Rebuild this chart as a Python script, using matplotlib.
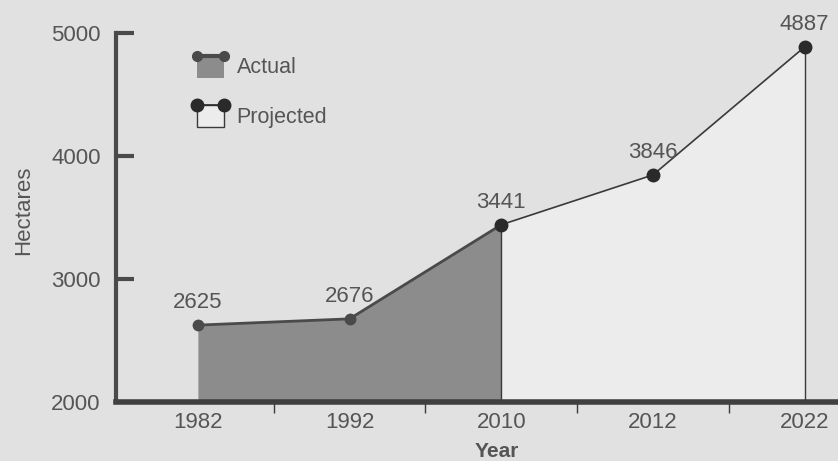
import numpy as np
import matplotlib
matplotlib.use('Agg')
import matplotlib.pyplot as plt
from matplotlib.legend_handler import HandlerBase
from matplotlib.patches import Rectangle
from matplotlib.lines import Line2D

plt.rcParams['font.family'] = ['Liberation Sans', 'DejaVu Sans']

years = ['1982', '1992', '2010', '2012', '2022']
actual = [2625, 2676, 3441]
projected = [3441, 3846, 4887]

bg = '#e1e1e1'
dark = '#3a3a3a'
txt = '#555555'

x = np.arange(len(years))
xa = x[:3]
xp = x[2:]

fig = plt.figure(figsize=(8.38, 4.61), dpi=100, facecolor=bg)
ax = fig.add_axes([0.1384, 0.128, 0.8616, 0.8004])
ax.set_facecolor(bg)

# actual: shaded area under the line
ax.fill_between(xa, 2000, actual, color='#8c8c8c', lw=0, zorder=2)
ax.plot(xa, actual, color='#4a4a4a', lw=2, zorder=3)
ax.plot(xa[:2], actual[:2], 'o', color='#4a4a4a', ms=7.5, zorder=4)

# projected: pale area with thin outline
ax.fill_between(xp, 2000, projected, color='#ececec', lw=0, zorder=2)
ax.plot([xp[0], xp[0]], [2000, projected[0]], color=dark, lw=1, zorder=3)
ax.plot([xp[-1], xp[-1]], [2000, projected[-1]], color=dark, lw=1, zorder=3)
ax.plot(xp, projected, color=dark, lw=1.2, zorder=3)
ax.plot(xp, projected, 'o', color='#2a2a2a', ms=9, zorder=4)

vals = actual[:2] + projected
for xi, v in zip(x, vals):
    ax.text(xi, v + 95, str(v), ha='center', va='bottom', fontsize=16,
            color=txt, clip_on=False)

ax.set_xlim(-0.54, 4.22)
ax.set_ylim(2000, 5000)
ax.set_xticks(x)
ax.set_xticklabels(years)
ax.set_xticks(x[:-1] + 0.5, minor=True)
ax.set_yticks([2000, 3000, 4000, 5000])
ax.tick_params(axis='x', which='major', length=0, pad=7, labelsize=16, labelcolor=txt)
ax.tick_params(axis='x', which='minor', length=8, width=1, color=dark, direction='out')
ax.tick_params(axis='y', length=13, width=3, color='#4a4a4a', direction='in',
               pad=11, labelsize=16, labelcolor=txt)
ax.get_yticklines()[0].set_visible(False)

for s in ['top', 'right']:
    ax.spines[s].set_visible(False)
ax.spines['left'].set_linewidth(3)
ax.spines['left'].set_color('#4a4a4a')
ax.spines['bottom'].set_linewidth(4)
ax.spines['bottom'].set_color('#404040')

ax.set_ylabel('Hectares', fontsize=16, color=txt)
ax.yaxis.set_label_coords(-0.113, 0.52)
ax.set_xlabel('Year', fontsize=15, color=txt, fontweight='bold')
ax.xaxis.set_label_coords(0.528, -0.108)


class AreaHandler(HandlerBase):
    # patch under a marker line, line sits on the patch's top edge
    def __init__(self, face, edge, lc, lw, ms, shift=-6):
        super().__init__()
        self.face, self.edge, self.lc, self.lw, self.ms = face, edge, lc, lw, ms
        self.shift = shift

    def create_artists(self, legend, orig, xd, yd, w, h, fs, trans):
        y0 = yd + self.shift
        top = y0 + h
        r = Rectangle((xd + 2, y0), w - 4, h, facecolor=self.face,
                      edgecolor=self.edge, lw=1, transform=trans)
        ln = Line2D([xd + 2, xd + w - 2], [top, top], color=self.lc, lw=self.lw,
                    marker='o', ms=self.ms, transform=trans)
        return [r, ln]


h1 = Rectangle((0, 0), 1, 1)
h2 = Rectangle((0, 0), 1, 1)
leg = ax.legend([h1, h2], ['Actual', 'Projected'],
                handler_map={h1: AreaHandler('#8c8c8c', 'none', '#4a4a4a', 3, 7),
                             h2: AreaHandler('#ececec', dark, '#2a2a2a', 1.2, 9)},
                loc='upper left', bbox_to_anchor=(0.109, 0.94), frameon=False,
                borderpad=0, borderaxespad=0, fontsize=15.5, labelcolor=txt,
                handlelength=1.5, handleheight=1.2, labelspacing=1.2,
                handletextpad=0.45)

fig.savefig('out.png', dpi=100, facecolor=bg)
